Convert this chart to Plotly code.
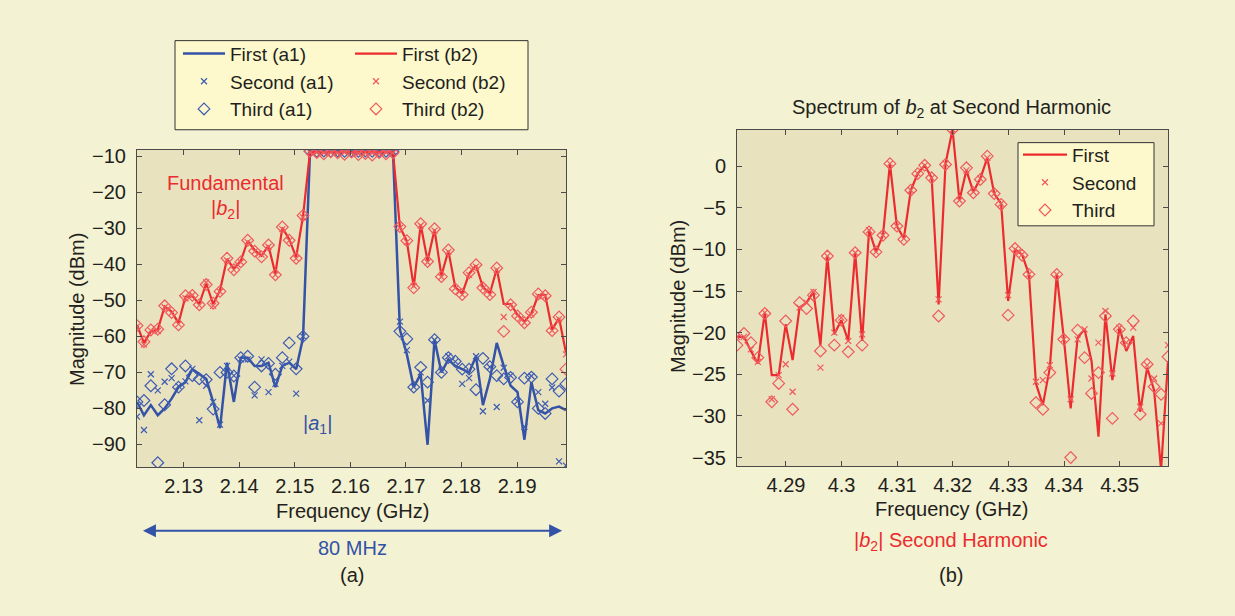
import plotly.graph_objects as go

W, H = 1235, 616
FONT = "Liberation Sans, Arial, Helvetica, sans-serif"
TXT = "#231f20"
BLUE = "#3453a6"
RED = "#ec2b2f"
RED_M = "#f05a5c"
BLUE_M = "#3d5cb2"

# ---------------- (a) fundamental ----------------
FREQ_A = [2.12160, 2.12285, 2.12409, 2.12534, 2.12658, 2.12783, 2.12907, 2.13032,
          2.13156, 2.13281, 2.13405, 2.13530, 2.13654, 2.13779, 2.13903, 2.14028,
          2.14152, 2.14277, 2.14401, 2.14526, 2.14650, 2.14775, 2.14899, 2.15024,
          2.15148, 2.15273, 2.15397, 2.15522, 2.15646, 2.15771, 2.15895, 2.16020,
          2.16144, 2.16269, 2.16393, 2.16518, 2.16642, 2.16767, 2.16891, 2.17016,
          2.17140, 2.17265, 2.17389, 2.17514, 2.17638, 2.17763, 2.17887, 2.18012,
          2.18136, 2.18261, 2.18385, 2.18510, 2.18634, 2.18759, 2.18883, 2.19008,
          2.19132, 2.19257, 2.19381, 2.19506, 2.19630, 2.19755, 2.19879]

A1_FIRST = [-78.2, -81.9, -79.1, -81.9, -80.0, -77.3, -74.1, -72.7, -69.1, -70.5,
            -71.8, -78.2, -85.5, -67.3, -78.2, -65.9, -65.9, -68.2, -68.2, -67.3,
            -74.1, -68.2, -67.3, -69.1, -60.4,
            -8.7, -8.7, -8.7, -8.7, -8.7, -8.7, -8.7, -8.7, -8.7, -8.7, -8.7, -8.7, -8.7,
            -58.1, -65.0, -74.1, -70.5, -90.1, -60.9, -70.0, -66.4, -68.2, -69.1,
            -70.0, -65.5, -79.1, -71.8, -61.8, -68.2, -73.7, -75.5, -88.7, -72.7,
            -80.5, -81.4, -80.0, -79.5, -80.5]

A1_SECOND = [-82.3, -86.0, -70.5, -75.0, -72.6, -71.6, -73.8, -72.5, -69.0, -83.3,
             -73.7, -78.2, -84.5, -68.2, -70.9, -66.4, -66.4, -76.4, -66.4, -75.5,
             -73.2, -68.2, -67.0, -75.9, -60.0,
             -8.6, -8.7, -8.6, -8.8, -8.6, -8.7, -8.6, -8.8, -8.6, -8.7, -8.6, -8.8, -8.7,
             -55.9, -63.8, -74.0, -70.0, -77.8, -61.0, -69.5, -65.5, -67.0, -73.2,
             -71.6, -65.5, -80.8, -68.5, -79.6, -68.7, -70.9, -78.0, -85.1, -71.0,
             -75.5, -78.7, -74.2, -94.7, -95.9]

A1_THIRD = [-78.2, -77.8, -73.7, -95.1, -79.0, -69.0, -74.1, -68.2, -70.9, -71.8,
            -72.0, -80.2, -70.0, -70.0, -71.0, -65.9, -65.5, -74.1, -68.2, -67.5,
            -70.5, -65.9, -61.8, -69.0, -60.0,
            -8.5, -8.6, -8.5, -8.6, -8.5, -8.6, -8.5, -8.6, -8.5, -8.6, -8.5, -8.6, -8.6,
            -58.6, -60.7, -74.1, -68.6, -72.7, -60.9, -70.0, -65.9, -66.9, -69.1,
            -69.1, -74.8, -66.1, -68.4, -70.9, -71.8, -71.4, -78.2, -71.6, -71.3,
            -80.0, -81.4, -71.8, -75.2, -73.2]

B2_FIRST = [-56.8, -61.8, -58.6, -58.1, -51.7, -53.1, -56.3, -49.0, -48.8, -51.0,
            -45.3, -51.0, -47.2, -38.5, -41.2, -39.0, -33.5, -36.0, -37.6, -34.8,
            -42.6, -29.8, -33.0, -38.0, -26.6,
            -8.8, -8.8, -8.8, -8.8, -8.8, -8.8, -8.8, -8.8, -8.8, -8.8, -8.8, -8.8, -8.8,
            -29.6, -33.5, -46.3, -28.9, -39.0, -30.3, -43.1, -36.2, -46.3, -48.1,
            -42.6, -40.3, -46.3, -48.1, -41.2, -51.0, -51.0, -54.0, -55.9, -53.6,
            -48.5, -48.5, -58.1, -54.9, -64.5]

B2_SECOND = [-57.3, -62.3, -58.4, -58.5, -51.9, -53.5, -56.6, -49.4, -48.5, -51.4,
             -45.0, -51.5, -47.6, -38.9, -41.5, -39.4, -33.8, -36.4, -37.3, -35.1,
             -42.9, -30.2, -33.4, -38.4, -26.9,
             -8.9, -8.8, -9.0, -8.9, -9.1, -8.8, -9.0, -9.2, -8.9, -9.0, -9.1, -8.9, -9.0,
             -29.9, -33.8, -46.0, -29.2, -39.4, -30.6, -43.5, -36.5, -46.6, -48.4,
             -42.9, -40.6, -46.6, -48.4, -41.5, -54.6, -51.3, -54.3, -56.2, -53.9,
             -48.8, -48.8, -58.4, -55.2, -65.0]

B2_THIRD = [-57.0, -61.5, -58.2, -58.0, -51.5, -53.4, -56.8, -48.7, -48.6, -51.2,
            -45.6, -50.8, -47.5, -38.3, -41.5, -39.3, -33.3, -36.3, -37.9, -34.6,
            -42.9, -29.6, -33.3, -38.3, -26.4,
            -8.6, -8.9, -9.3, -8.7, -9.0, -9.4, -8.8, -9.5, -9.2, -9.6, -8.9, -9.3, -9.0,
            -29.5, -33.4, -46.5, -28.7, -39.2, -30.1, -43.4, -36.0, -46.8, -48.4,
            -42.3, -40.1, -46.5, -48.4, -41.0, -58.6, -51.2, -54.3, -56.2, -53.3,
            -48.2, -48.7, -58.4, -54.6, -69.1]

# ---------------- (b) second harmonic ----------------
FREQ_B = [4.28120, 4.28245, 4.28370, 4.28495, 4.28620, 4.28745, 4.28870, 4.28995,
          4.29120, 4.29245, 4.29370, 4.29495, 4.29620, 4.29745, 4.29870, 4.29995,
          4.30120, 4.30245, 4.30370, 4.30495, 4.30620, 4.30745, 4.30870, 4.30995,
          4.31120, 4.31245, 4.31370, 4.31495, 4.31620, 4.31745, 4.31870, 4.31995,
          4.32120, 4.32245, 4.32370, 4.32495, 4.32620, 4.32745, 4.32870, 4.32995,
          4.33120, 4.33245, 4.33370, 4.33495, 4.33620, 4.33745, 4.33870, 4.33995,
          4.34120, 4.34245, 4.34370, 4.34495, 4.34620, 4.34745, 4.34870, 4.34995,
          4.35120, 4.35245, 4.35370, 4.35495, 4.35620, 4.35745, 4.35870]

H2_FIRST = [-20.5, -20.5, -22.2, -23.7, -17.6, -25.1, -25.1, -19.0, -23.3, -17.0,
            -16.4, -15.1, -21.5, -10.8, -20.2, -18.5, -21.0, -10.4, -21.0, -7.7,
            -10.3, -8.3, 0.3, -7.2, -8.7, -2.9, -0.9, 0.1, -1.4, -16.6,
            0.3, 4.4, -4.1, -0.5, -3.1, -1.5, 1.0, -3.3, -4.5, -16.2,
            -10.0, -10.6, -13.0, -26.1, -28.7, -24.2, -13.0, -20.6, -29.1, -20.6,
            -19.6, -23.4, -32.5, -17.8, -25.7, -19.4, -22.2, -20.4, -29.5, -24.2,
            -26.9, -36.5, -23.4]

H2_SECOND = [-20.5, -20.5, -22.0, -23.5, -17.6, -28.0, -25.1, -23.8, -27.1, -17.0,
             -16.4, -15.1, -24.2, -10.8, -20.0, -18.2, -21.0, -10.4, -20.2, -7.7,
             -10.3, -8.3, 0.3, -7.2, -8.7, -2.9, -0.9, 0.1, -1.4, -16.0,
             0.3, 4.4, -4.1, -0.5, -3.1, -1.5, 1.0, -3.3, -4.5, -15.5,
             -10.0, -10.6, -13.0, -25.9, -25.7, -23.9, -13.0, -20.8, -28.0, -20.8,
             -19.6, -25.5, -21.2, -17.4, -24.9, -19.4, -21.2, -19.4, -28.9, -23.9,
             -25.5, -30.9, -21.5]

H2_THIRD = [-21.5, -20.1, -21.2, -23.0, -17.7, -28.3, -26.1, -18.6, -29.2, -16.4,
            -17.1, -15.5, -22.2, -10.8, -21.5, -18.5, -22.3, -10.4, -21.5, -7.9,
            -10.3, -8.3, 0.3, -7.2, -8.8, -2.9, -0.9, 0.1, -1.4, -18.0,
            0.2, 4.4, -4.2, -0.2, -3.2, -1.6, 1.2, -3.3, -4.6, -17.9,
            -9.9, -10.7, -13.0, -28.4, -29.2, -24.8, -13.0, -20.8, -35.0, -19.7,
            -23.0, -27.3, -24.8, -18.0, -30.3, -19.6, -21.2, -18.6, -29.8, -23.8,
            -26.5, -27.4, -22.9]

XTICKS_A = [2.13, 2.14, 2.15, 2.16, 2.17, 2.18, 2.19]
XTICKTEXT_A = ["2.13", "2.14", "2.15", "2.16", "2.17", "2.18", "2.19"]
YTICKS_A = [-90, -80, -70, -60, -50, -40, -30, -20, -10]
XTICKS_B = [4.29, 4.30, 4.31, 4.32, 4.33, 4.34, 4.35]
XTICKTEXT_B = ["4.29", "4.3", "4.31", "4.32", "4.33", "4.34", "4.35"]
YTICKS_B = [-35, -30, -25, -20, -15, -10, -5, 0]


def px(x):
    return x / W


def py(y):
    return 1 - y / H


fig = go.Figure()

# (a) traces
fig.add_trace(go.Scatter(x=FREQ_A, y=A1_FIRST, mode="lines", name="First (a1)",
                         line=dict(color=BLUE, width=2.5), legend="legend",
                         xaxis="x", yaxis="y"))
fig.add_trace(go.Scatter(x=FREQ_A, y=A1_SECOND, mode="markers", name="Second (a1)",
                         marker=dict(symbol="x-thin", size=6, color=BLUE_M,
                                     line=dict(color=BLUE_M, width=1.2)),
                         legend="legend", xaxis="x", yaxis="y"))
fig.add_trace(go.Scatter(x=FREQ_A, y=A1_THIRD, mode="markers", name="Third (a1)",
                         marker=dict(symbol="diamond-open", size=9, color=BLUE_M,
                                     line=dict(color=BLUE_M, width=1.2)),
                         legend="legend", xaxis="x", yaxis="y"))
fig.add_trace(go.Scatter(x=FREQ_A, y=B2_FIRST, mode="lines", name="First (b2)",
                         line=dict(color=RED, width=2.2), legend="legend3",
                         xaxis="x", yaxis="y"))
fig.add_trace(go.Scatter(x=FREQ_A, y=B2_SECOND, mode="markers", name="Second (b2)",
                         marker=dict(symbol="x-thin", size=6, color=RED_M,
                                     line=dict(color=RED_M, width=1.2)),
                         legend="legend3", xaxis="x", yaxis="y"))
fig.add_trace(go.Scatter(x=FREQ_A, y=B2_THIRD, mode="markers", name="Third (b2)",
                         marker=dict(symbol="diamond-open", size=9, color=RED_M,
                                     line=dict(color=RED_M, width=1.2)),
                         legend="legend3", xaxis="x", yaxis="y"))

# (b) traces
fig.add_trace(go.Scatter(x=FREQ_B, y=H2_FIRST, mode="lines", name="First",
                         line=dict(color=RED, width=2.2), legend="legend2",
                         xaxis="x2", yaxis="y2"))
fig.add_trace(go.Scatter(x=FREQ_B, y=H2_SECOND, mode="markers", name="Second",
                         marker=dict(symbol="x-thin", size=6, color=RED_M,
                                     line=dict(color=RED_M, width=1.2)),
                         legend="legend2", xaxis="x2", yaxis="y2"))
fig.add_trace(go.Scatter(x=FREQ_B, y=H2_THIRD, mode="markers", name="Third",
                         marker=dict(symbol="diamond-open", size=9, color=RED_M,
                                     line=dict(color=RED_M, width=1.2)),
                         legend="legend2", xaxis="x2", yaxis="y2"))

axis_common = dict(showline=True, linecolor="#4a4a4a", linewidth=1, mirror="ticks",
                   ticks="inside", ticklen=5, tickcolor="#4a4a4a", showgrid=False,
                   zeroline=False, tickfont=dict(family=FONT, size=20, color=TXT))

LEG_FONT = dict(family=FONT, size=19, color=TXT)

fig.update_layout(
    width=W, height=H,
    margin=dict(l=0, r=0, t=0, b=0),
    paper_bgcolor="#f3f2d2",
    plot_bgcolor="#e9e2bf",
    font=dict(family=FONT, size=20, color=TXT),
    xaxis=dict(domain=[px(137), px(566)], range=[2.1216, 2.1988], anchor="y",
               tickvals=XTICKS_A, ticktext=XTICKTEXT_A, ticklabelstandoff=1, **axis_common),
    yaxis=dict(domain=[py(468), py(147)], range=[-96.4, -8.1], anchor="x",
               tickvals=YTICKS_A, ticklabelstandoff=6, **axis_common),
    xaxis2=dict(domain=[px(737), px(1168)], range=[4.2812, 4.3587], anchor="y2",
                tickvals=XTICKS_B, ticktext=XTICKTEXT_B, ticklabelstandoff=1, **axis_common),
    yaxis2=dict(domain=[py(467), py(127)], range=[-36.07, 4.37], anchor="x2",
                tickvals=YTICKS_B, ticklabelstandoff=6, **axis_common),
    legend=dict(x=px(178), y=py(31), xanchor="left", yanchor="top",
                bgcolor="rgba(0,0,0,0)", borderwidth=0, itemwidth=42,
                font=LEG_FONT, tracegroupgap=0),
    legend3=dict(x=px(350), y=py(31), xanchor="left", yanchor="top",
                 bgcolor="rgba(0,0,0,0)", borderwidth=0, itemwidth=42,
                 font=LEG_FONT, tracegroupgap=0),
    legend2=dict(x=px(1018), y=py(133), xanchor="left", yanchor="top",
                 bgcolor="rgba(0,0,0,0)", borderwidth=0, itemwidth=44,
                 font=LEG_FONT, tracegroupgap=0),
    showlegend=True,
)

# legend boxes
fig.add_shape(type="rect", xref="paper", yref="paper",
              x0=px(175), x1=px(528), y0=py(127), y1=py(37),
              fillcolor="#fdf9cc", line=dict(color="#333333", width=1), layer="below")
fig.add_shape(type="rect", xref="paper", yref="paper",
              x0=px(1018), x1=px(1154), y0=py(224), y1=py(140),
              fillcolor="#fdf9cc", line=dict(color="#333333", width=1), layer="above")


def note(text, x, y, color=TXT, angle=0, size=20):
    fig.add_annotation(text=text, x=px(x), y=py(y), xref="paper", yref="paper",
                       showarrow=False, xanchor="center", yanchor="middle",
                       textangle=angle, font=dict(family=FONT, size=size, color=color))


note("Magnitude (dBm)", 77, 309, angle=-90)
note("Frequency (GHz)", 352, 512)
note("80 MHz", 352, 549, color=BLUE)
note("(a)", 352, 577)
note("Fundamental", 225, 181, color=RED)
note("|<i>b</i><sub>2</sub>|", 225, 208, color=RED)
note("|<i>a</i><sub>1</sub>|", 318, 425, color=BLUE)

note("Spectrum of <i>b</i><sub>2</sub> at Second Harmonic", 951, 106)
note("Magnitude (dBm)", 678, 296, angle=-90)
note("Frequency (GHz)", 951, 510)
note("|<i>b</i><sub>2</sub>| Second Harmonic", 951, 543, color=RED)
note("(b)", 951, 577)

# 80 MHz double arrow
fig.add_annotation(x=2.1981, y=py(532), xref="x", yref="paper",
                   ax=2.1224, ay=0, axref="x", ayref="pixel",
                   text="", showarrow=True, arrowside="end+start", arrowhead=2,
                   arrowsize=1.3, arrowwidth=2, arrowcolor=BLUE)

fig.write_html("out.html", config={"displayModeBar": False},
               post_script="document.body.style.margin='0';"
                           "document.body.style.overflow='hidden';")
